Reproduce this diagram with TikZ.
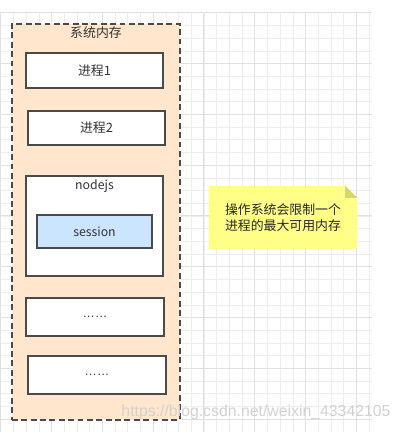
\documentclass[tikz,border=0pt]{standalone}
\usepackage{fontspec}
\setmainfont{Liberation Sans}
\newfontfamily\cjk{Noto Sans CJK SC}
\usepackage{xcolor}
\usetikzlibrary{positioning, calc}

\definecolor{memfill}{HTML}{FFE6CC}
\definecolor{sessfill}{HTML}{CCE5FF}
\definecolor{notefill}{HTML}{FFFF88}
\definecolor{notefold}{HTML}{D6D66E}
\definecolor{edge}{HTML}{4A4A4A}
\definecolor{txt}{HTML}{333333}

\begin{document}
\begin{tikzpicture}[
    x=0.03cm, y=-0.03cm,
    font=\cjk\fontsize{11}{13}\selectfont,
    text=txt,
    minor/.style={draw=black!7, line width=0.5pt},
    major/.style={draw=black!12, line width=0.7pt},
    memory/.style={rectangle, draw=edge, dashed, line width=1.3pt, dash pattern=on 5pt off 3pt, fill=memfill, minimum width=5.04cm, minimum height=11.88cm},
    proc/.style={rectangle, draw=edge, line width=1.2pt, fill=white, minimum width=4.11cm, minimum height=1.05cm},
    sess/.style={rectangle, draw=edge, line width=1.2pt, fill=sessfill, minimum width=3.45cm, minimum height=0.99cm},
    note/.style={rectangle, minimum width=4.44cm, minimum height=1.89cm, align=center}
]
    \useasboundingbox (0,0) rectangle (402,432);
    % background grid
    \foreach \i in {0,...,29} {
        \draw[minor] (0.7+12.7*\i,12.7) -- (0.7+12.7*\i,432);
    }
    \foreach \j in {0,...,33} {
        \draw[minor] (0,12.7+12.7*\j) -- (372,12.7+12.7*\j);
    }
    \foreach \i in {0,...,7} {
        \draw[major] (0.7+50.8*\i,12.7) -- (0.7+50.8*\i,432);
    }
    \foreach \j in {0,...,8} {
        \draw[major] (0,12.7+50.8*\j) -- (372,12.7+50.8*\j);
    }

    % system memory
    \node[memory] (mem) at (96,222) {};
    \node (memtitle) at (96,33) {系统内存};

    \node[proc] (proc1) at (94.5,70.5) {进程1};
    \node[proc, minimum height=1.02cm] (proc2) at (96.5,128) {进程2};
    \node[proc, minimum height=3cm] (nodejs) at (94.5,226) {};
    \node (nodejstitle) at (94.5,186) {\fontsize{10.5}{12}\selectfont nodejs};
    \node[sess] (session) at (94.5,231.5) {\fontsize{10.5}{12}\selectfont session};
    \node[proc, minimum width=4.14cm, minimum height=1.14cm] (more1) at (95,317) {\fontsize{10.5}{12}\selectfont\rmfamily ……};
    \node[proc, minimum width=4.14cm, minimum height=1.14cm] (more2) at (97,375) {\fontsize{10.5}{12}\selectfont\rmfamily ……};

    % note
    \node[note] (limit) at (283,217.5) {};
    \fill[notefill] (limit.south west) -- (limit.south east) -- ([yshift=-0.36cm]limit.north east)
        -- ([xshift=-0.36cm]limit.north east) -- (limit.north west) -- cycle;
    \fill[notefold] ([xshift=-0.36cm]limit.north east) -- ([yshift=-0.36cm]limit.north east)
        -- ([xshift=-0.36cm, yshift=-0.36cm]limit.north east) -- cycle;
    \node[align=left, inner sep=0pt, text=black!85] (limittext) at (limit) {操作系统会限制一个\\进程的最大可用内存};

    % watermark
    \node[text=black!18, font=\fontsize{13.5}{15}\selectfont] (mark) at (256,412) {https://blog.csdn.net/weixin\_43342105};
\end{tikzpicture}
\end{document}
